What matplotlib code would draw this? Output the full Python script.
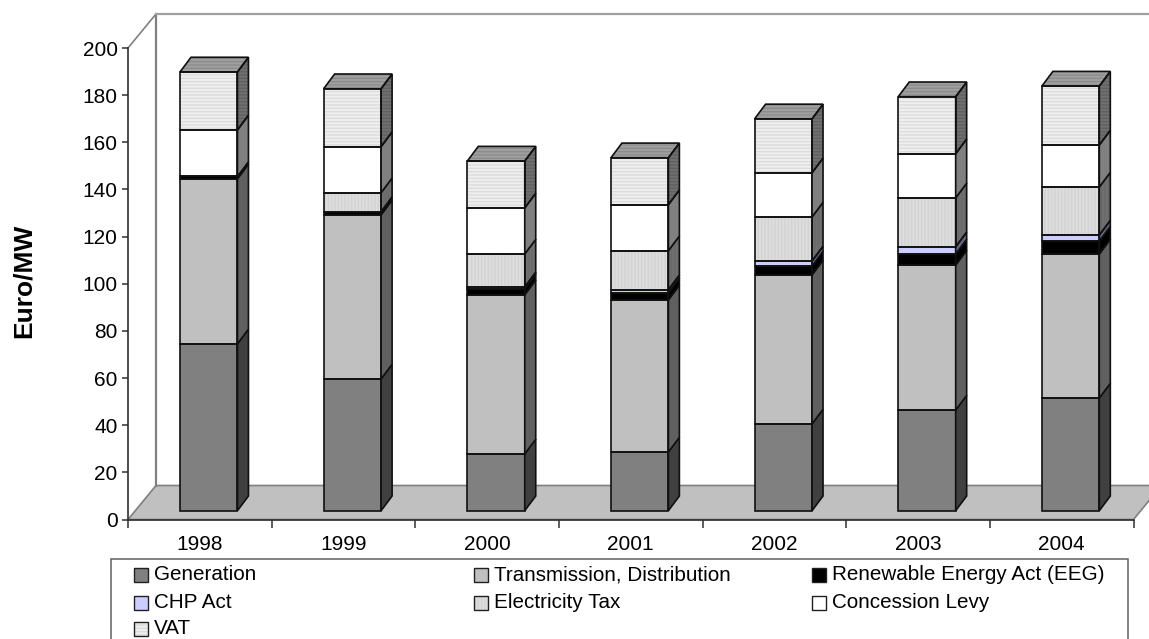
import matplotlib
matplotlib.use("Agg")
import matplotlib.pyplot as plt
from matplotlib.patches import Polygon, Rectangle

plt.rcParams['font.family'] = ['Liberation Sans', 'DejaVu Sans']
plt.rcParams['hatch.linewidth'] = 1.0

years = ['1998', '1999', '2000', '2001', '2002', '2003', '2004']
generation = [70.8, 55.9, 24.1, 24.9, 36.8, 42.7, 47.8]
transmission = [70.0, 69.6, 67.5, 64.5, 63.2, 61.5, 61.1]
eeg = [1.0, 1.3, 2.5, 3.0, 3.8, 4.7, 5.5]
chp = [0, 0, 0.8, 1.3, 2.1, 3.0, 2.5]
tax = [0, 8.1, 14.0, 16.6, 18.7, 20.8, 20.4]
concession = [19.7, 19.5, 19.5, 19.5, 18.7, 18.7, 17.8]
vat = [24.6, 24.6, 19.9, 19.9, 22.9, 24.2, 25.0]

series = [generation, transmission, eeg, chp, tax, concession, vat]
labels = ['Generation', 'Transmission, Distribution', 'Renewable Energy Act (EEG)',
          'CHP Act', 'Electricity Tax', 'Concession Levy', 'VAT']
# face, side colour, hatch, hatch colour, side hatch colour
styles = [
    ('#808080', '#404040', None, None, None),
    ('#c0c0c0', '#606060', None, None, None),
    ('#000000', '#000000', None, None, None),
    ('#ccccff', '#666680', None, None, None),
    ('#dedede', '#707070', '|||||', '#d2d2d2', '#696969'),
    ('#ffffff', '#808080', None, None, None),
    ('#efefef', '#707070', '-----', '#dcdcdc', '#606060'),
]

W, H = 1149, 639
X0, X1, Y0, Y200 = 128, 1133.5, 519.5, 48
FS = 15
fig = plt.figure(figsize=(W / 100, H / 100), dpi=100)
ax = fig.add_axes([X0 / W, 1 - Y0 / H, (X1 - X0) / W, (Y0 - Y200) / H])
ax.set_xlim(0, len(years))
ax.set_ylim(0, 200)
ax.patch.set_visible(False)

px_x = len(years) / (X1 - X0)
px_y = 200 / (Y0 - Y200)

# walls and floor
wall_dx, wall_dy = 28 * px_x, 34 * px_y
floor = Polygon([(0, 0), (7, 0), (7 + wall_dx, wall_dy), (wall_dx, wall_dy)],
                fc='#c0c0c0', ec='#808080', lw=1.2, clip_on=False, zorder=1)
ax.add_patch(floor)
ax.plot([wall_dx, wall_dx], [wall_dy, 200 + wall_dy], color='#808080', lw=1.6, clip_on=False, zorder=1)
ax.plot([0, wall_dx], [200, 200 + wall_dy], color='#808080', lw=1.2, clip_on=False, zorder=1)
ax.plot([wall_dx, 7.6], [200 + wall_dy, 200 + wall_dy], color='#a0a0a0', lw=1.6, clip_on=False, zorder=1)

# bars
bar_w = 0.4
bar_off = 0.362
dx, dy = 11 * px_x, 14.7 * px_y
base = 8.8 * px_y
edge = dict(ec='#101010', lw=1.2, clip_on=False, zorder=3)

for i, year in enumerate(years):
    left = i + bar_off
    right = left + bar_w
    bottom = base
    for vals, (face, side, hatch, hcol, shcol) in zip(series, styles):
        v = vals[i]
        if v == 0:
            continue
        top = bottom + v
        ax.bar(left, v, bar_w, bottom=bottom, align='edge', color=face, edgecolor=hcol if hatch else face,
               hatch=hatch, lw=0, zorder=2, clip_on=False)
        ax.add_patch(Rectangle((left, bottom), bar_w, v, fill=False, **edge))
        side_pts = [(right, bottom), (right + dx, bottom + dy), (right + dx, top + dy), (right, top)]
        if hatch:
            ax.add_patch(Polygon(side_pts, fc=side, ec=shcol, hatch=hatch, lw=0, zorder=2, clip_on=False))
            ax.add_patch(Polygon(side_pts, fill=False, **edge))
        else:
            ax.add_patch(Polygon(side_pts, fc=side, **edge))
        bottom = top
    top_pts = [(left, bottom), (right, bottom), (right + dx, bottom + dy), (left + dx, bottom + dy)]
    ax.add_patch(Polygon(top_pts, fc='#a0a0a0', ec='#8c8c8c', hatch='-----', lw=0, zorder=2, clip_on=False))
    ax.add_patch(Polygon(top_pts, fill=False, **edge))

# axes
for s in ['top', 'right']:
    ax.spines[s].set_visible(False)
for s in ['left', 'bottom']:
    ax.spines[s].set_color('#303030')
    ax.spines[s].set_linewidth(1.2)
    ax.spines[s].set_zorder(4)
ax.set_yticks(range(0, 201, 20))
ax.set_xticks(range(0, 8))
ax.set_xticklabels([])
ax.tick_params(axis='y', length=4.5, width=1.1, color='#303030', labelsize=FS, pad=3)
ax.tick_params(axis='x', length=5.5, width=1.1, color='#303030')
for i, year in enumerate(years):
    ax.annotate(year, (i + 0.5, 0), xytext=(0, -11.5), textcoords='offset points',
                ha='center', va='top', fontsize=FS, annotation_clip=False)

fig.text(24 / W, 1 - 281 / H, 'Euro/MW', rotation=90, fontsize=19, fontweight='bold',
         ha='center', va='center')

# legend box, runs off the bottom of the picture
fig.add_artist(Rectangle((111 / W, -0.02), (1128 - 111) / W, 1 - 559 / H + 0.02, transform=fig.transFigure,
                         fc='white', ec='#606060', lw=1.1))
col_x = [134, 474, 812]
row_y = [575, 603, 629]
for k, (label, (face, side, hatch, hcol, shcol)) in enumerate(zip(labels, styles)):
    lx = col_x[k % 3]
    ly = row_y[k // 3]
    box = ((lx / W, 1 - (ly + 7) / H), 14 / W, 14 / H)
    fig.add_artist(Rectangle(*box, transform=fig.transFigure, fc=face, ec=hcol if hatch else face,
                             lw=0, hatch=hatch))
    fig.add_artist(Rectangle(*box, transform=fig.transFigure, fill=False, ec='#202020', lw=1.0))
    fig.text((lx + 20) / W, 1 - ly / H, label, fontsize=14.85, va='center', ha='left')

fig.savefig('out.png', dpi=100)
